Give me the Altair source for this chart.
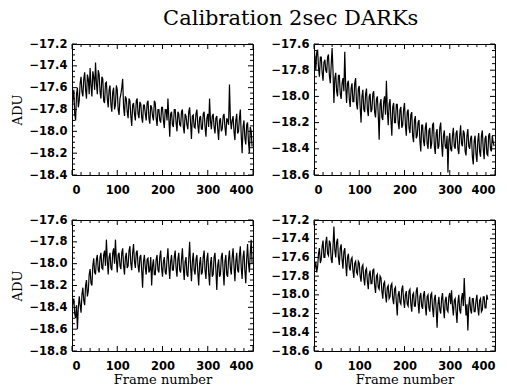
import altair as alt
import pandas as pd

TITLE = "Calibration 2sec DARKs"
X_TITLE = "Frame number"
Y_TITLE = "ADU"
FRAME_STEP = 2  # values below are read every 2 frames

p1 = [-17.78, -17.7, -17.62, -17.84, -17.9, -17.66, -17.6, -17.78, -17.72, -17.56, -17.5, -17.64, -17.68, -17.52, -17.46, -17.62, -17.7, -17.48, -17.52, -17.66,
      -17.42, -17.58, -17.68, -17.45, -17.5, -17.62, -17.37, -17.56, -17.66, -17.44, -17.48, -17.64, -17.7, -17.5, -17.52, -17.72, -17.74, -17.56, -17.55, -17.7,
      -17.78, -17.62, -17.58, -17.76, -17.82, -17.64, -17.6, -17.8, -17.76, -17.58, -17.62, -17.8, -17.85, -17.7, -17.66, -17.6, -17.52, -17.78, -17.86, -17.68,
      -17.7, -17.82, -17.88, -17.7, -17.72, -17.86, -17.95, -17.76, -17.74, -17.84, -17.9, -17.72, -17.7, -17.84, -17.88, -17.73, -17.75, -17.87, -17.92, -17.76,
      -17.76, -17.84, -17.9, -17.74, -17.72, -17.88, -17.93, -17.76, -17.78, -17.86, -17.9, -17.72, -17.74, -17.88, -17.95, -17.8, -17.8, -17.9, -17.92, -17.78,
      -17.78, -17.9, -17.97, -17.8, -17.8, -17.9, -17.7, -17.88, -18.05, -17.84, -17.82, -17.94, -17.96, -17.8, -17.8, -17.92, -18.0, -17.82, -17.84, -17.94,
      -17.95, -17.82, -17.8, -17.96, -18.02, -17.84, -17.86, -17.94, -17.98, -17.82, -17.78, -17.92, -18.07, -17.86, -17.85, -17.96, -17.97, -17.84, -17.8, -17.94,
      -18.02, -17.88, -17.86, -17.98, -17.98, -17.84, -17.82, -17.96, -18.05, -17.88, -17.84, -17.96, -17.7, -17.9, -17.98, -17.86, -17.84, -17.96, -18.02, -17.88,
      -17.86, -17.98, -18.08, -17.9, -17.88, -18.0, -17.98, -17.86, -17.84, -17.96, -18.04, -17.88, -17.9, -17.94, -17.57, -17.88, -17.98, -17.9, -17.86, -18.0,
      -18.08, -17.9, -17.84, -18.02, -18.0, -17.88, -17.8, -18.04, -18.2, -17.96, -17.9, -18.06, -18.12, -17.94, -17.92, -18.1, -18.2, -17.96, -18.0, -18.14]

p2 = [-17.62, -17.7, -17.8, -17.66, -17.65, -17.78, -17.85, -17.7, -17.7, -17.82, -17.88, -17.74, -17.72, -17.8, -17.82, -17.7, -17.68, -17.84, -17.9, -17.76,
      -17.63, -17.8, -18.05, -17.86, -17.82, -17.96, -18.0, -17.84, -17.84, -17.98, -18.02, -17.9, -17.86, -17.96, -17.66, -17.92, -18.05, -17.9, -17.88, -18.02,
      -18.08, -17.94, -17.9, -18.04, -18.04, -17.9, -17.86, -18.06, -18.1, -17.94, -17.92, -18.08, -18.2, -18.0, -17.95, -18.1, -18.12, -17.98, -17.94, -18.1,
      -18.15, -18.0, -17.98, -18.12, -18.1, -17.98, -17.96, -18.12, -18.16, -18.02, -18.0, -18.14, -18.33, -18.06, -18.02, -18.16, -18.18, -18.04, -18.0, -18.14,
      -17.88, -18.1, -18.22, -18.06, -18.02, -18.18, -18.3, -18.08, -18.05, -18.2, -18.2, -18.06, -18.06, -18.2, -18.25, -18.1, -18.08, -18.24, -18.22, -18.1,
      -18.05, -18.22, -18.3, -18.12, -18.1, -18.24, -18.28, -18.14, -18.12, -18.3, -18.35, -18.18, -18.15, -18.32, -18.3, -18.2, -18.18, -18.34, -18.42, -18.22,
      -18.22, -18.34, -18.38, -18.24, -18.2, -18.36, -18.4, -18.26, -18.24, -18.4, -18.36, -18.22, -18.2, -18.38, -18.44, -18.28, -18.25, -18.4, -18.38, -18.24,
      -18.2, -18.36, -18.46, -18.3, -18.26, -18.38, -18.4, -18.3, -18.58, -18.34, -18.28, -18.4, -18.42, -18.3, -18.24, -18.38, -18.4, -18.28, -18.26, -18.4,
      -18.44, -18.3, -18.22, -18.36, -18.38, -18.26, -18.28, -18.42, -18.45, -18.3, -18.25, -18.38, -18.4, -18.32, -18.3, -18.46, -18.52, -18.34, -18.3, -18.44,
      -18.5, -18.34, -18.28, -18.42, -18.46, -18.3, -18.26, -18.4, -18.48, -18.32, -18.3, -18.44, -18.45, -18.3, -18.28, -18.4, -18.42, -18.3, -18.35, -18.38]

p3 = [-18.42, -18.36, -18.32, -18.46, -18.5, -18.38, -18.6, -18.4, -18.3, -18.38, -18.45, -18.28, -18.22, -18.34, -18.38, -18.2, -18.15, -18.3, -18.25, -18.1,
      -18.05, -18.18, -18.2, -18.02, -17.95, -18.08, -18.1, -17.96, -17.92, -18.06, -18.08, -17.94, -17.9, -18.04, -18.05, -17.92, -17.88, -18.02, -17.78, -17.96,
      -18.1, -17.94, -17.9, -18.04, -18.06, -17.9, -17.86, -18.0, -17.78, -17.96, -18.08, -17.92, -17.9, -18.02, -18.05, -17.9, -17.86, -18.02, -18.1, -17.94,
      -17.9, -18.04, -18.02, -17.88, -17.84, -18.0, -18.06, -17.9, -17.82, -17.98, -18.04, -17.9, -17.88, -18.02, -18.08, -17.94, -17.92, -18.06, -18.22, -17.98,
      -17.92, -18.04, -18.1, -17.96, -17.95, -18.08, -18.06, -17.94, -18.2, -18.02, -17.96, -18.1, -18.1, -17.96, -17.92, -18.06, -18.08, -17.94, -17.88, -18.04,
      -18.12, -17.98, -17.94, -18.08, -18.1, -17.96, -17.86, -18.02, -18.14, -17.98, -17.92, -18.06, -18.06, -17.94, -17.88, -18.04, -18.12, -17.96, -17.9, -18.06,
      -18.08, -17.96, -17.86, -18.04, -18.15, -17.98, -17.94, -18.1, -18.12, -17.96, -17.8, -18.02, -18.16, -17.98, -17.9, -18.06, -18.1, -17.96, -17.92, -18.08,
      -18.2, -18.0, -17.94, -18.1, -18.08, -17.94, -17.88, -18.06, -18.14, -17.96, -17.9, -18.08, -18.2, -18.0, -17.94, -18.12, -18.1, -17.94, -17.9, -18.06,
      -18.24, -18.02, -17.96, -18.12, -18.1, -17.94, -17.9, -18.06, -18.2, -17.98, -17.92, -18.1, -18.12, -17.96, -17.88, -18.04, -18.1, -17.94, -17.86, -18.02,
      -18.16, -17.98, -17.9, -18.06, -18.08, -17.92, -17.84, -18.04, -18.14, -17.94, -17.88, -18.06, -18.18, -17.96, -17.82, -18.0, -18.08, -17.9, -17.78, -18.0]

p4 = [-17.78, -17.7, -17.65, -17.76, -17.7, -17.56, -17.5, -17.66, -17.62, -17.48, -17.42, -17.6, -17.6, -17.44, -17.38, -17.56, -17.58, -17.42, -17.45, -17.62,
      -17.66, -17.48, -17.27, -17.52, -17.6, -17.44, -17.4, -17.6, -17.68, -17.5, -17.46, -17.62, -17.72, -17.54, -17.5, -17.66, -17.8, -17.6, -17.56, -17.7,
      -17.74, -17.62, -17.6, -17.74, -17.82, -17.66, -17.64, -17.76, -17.78, -17.64, -17.66, -17.8, -17.86, -17.7, -17.68, -17.82, -17.9, -17.74, -17.72, -17.86,
      -17.94, -17.78, -17.74, -17.88, -17.88, -17.74, -17.72, -17.9, -17.98, -17.8, -17.78, -17.92, -17.94, -17.8, -17.82, -17.96, -18.04, -17.88, -17.86, -18.0,
      -18.08, -17.92, -17.9, -18.04, -18.02, -17.9, -17.88, -18.04, -18.1, -17.94, -17.92, -18.08, -18.22, -18.0, -17.96, -18.08, -18.1, -17.94, -17.9, -18.06,
      -18.14, -18.0, -17.96, -18.1, -18.12, -17.96, -17.94, -18.1, -18.18, -18.0, -17.98, -18.12, -18.12, -17.96, -17.92, -18.08, -18.2, -18.02, -17.98, -18.12,
      -18.15, -18.0, -17.96, -18.12, -18.22, -18.02, -18.0, -18.14, -18.18, -18.0, -17.98, -18.14, -18.24, -18.04, -18.0, -18.16, -18.35, -18.1, -18.02, -18.16,
      -18.2, -18.04, -17.98, -18.14, -18.25, -18.06, -18.02, -18.16, -18.18, -18.02, -17.98, -18.1, -17.95, -18.12, -18.22, -18.06, -18.04, -18.18, -18.3, -18.08,
      -18.0, -18.16, -18.2, -18.04, -17.98, -18.12, -17.82, -18.06, -18.22, -18.1, -18.38, -18.12, -18.02, -18.16, -18.2, -18.04, -18.04, -18.18, -18.18, -18.06,
      -18.0, -18.14, -18.22, -18.06, -18.04, -18.18, -18.16, -18.02, -18.02, -18.14, -18.14, -18.0, -18.05]

x_domain = [0, 400]
x_ticks = [0, 100, 200, 300, 400]
x_minor = [20, 40, 60, 80, 120, 140, 160, 180, 220, 240, 260, 280, 320, 340, 360, 380]

y_domains = [[-18.4, -17.2], [-18.6, -17.6], [-18.8, -17.6], [-18.6, -17.2]]
y_ticks = [
    [-18.4, -18.2, -18.0, -17.8, -17.6, -17.4, -17.2],
    [-18.6, -18.4, -18.2, -18.0, -17.8, -17.6],
    [-18.8, -18.6, -18.4, -18.2, -18.0, -17.8, -17.6],
    [-18.6, -18.4, -18.2, -18.0, -17.8, -17.6, -17.4, -17.2],
]

W, H = 181, 131
MAJ, MIN = 5, 3
TICK_FONT = "DejaVu Sans"
TEXT_FONT = "DejaVu Serif"


def minor_values(ticks):
    out = []
    for a, b in zip(ticks[:-1], ticks[1:]):
        for k in (1, 2, 3):
            out.append(round(a + (b - a) * k / 4, 3))
    return out


def panel(vals, ydom, yt, ytitle, xtitle):
    df = pd.DataFrame({"frame": [i * FRAME_STEP for i in range(len(vals))], "adu": vals})
    xs = alt.Scale(domain=x_domain, nice=False, zero=False)
    ys = alt.Scale(domain=ydom, nice=False, zero=False)
    xax = alt.Axis(values=x_ticks, format="d", ticks=False, domain=False,
                   grid=False, labelPadding=9, titlePadding=2)
    yax = alt.Axis(values=yt, format=".1f", ticks=False, domain=False,
                   grid=False, labelPadding=5, titlePadding=4)
    line = alt.Chart(df).mark_line(color="black", strokeWidth=1.2, clip=True).encode(
        x=alt.X("frame:Q", scale=xs, title=xtitle, axis=xax),
        y=alt.Y("adu:Q", scale=ys, title=ytitle, axis=yax),
    )
    layers = [line]
    ymaj = pd.DataFrame({"v": yt})
    ymin = pd.DataFrame({"v": minor_values(yt)})
    xmaj = pd.DataFrame({"v": x_ticks})
    xmin = pd.DataFrame({"v": x_minor})
    for d, ln in ((ymaj, MAJ), (ymin, MIN)):
        for a, b in ((0, ln), (W - ln, W)):
            layers.append(alt.Chart(d).mark_rule(color="black", strokeWidth=1).encode(
                y=alt.Y("v:Q", scale=ys, title=ytitle, axis=yax),
                x=alt.value(a), x2=alt.value(b)))
    for d, ln in ((xmaj, MAJ), (xmin, MIN)):
        for a, b in ((0, ln), (H - ln, H)):
            layers.append(alt.Chart(d).mark_rule(color="black", strokeWidth=1).encode(
                x=alt.X("v:Q", scale=xs, title=xtitle, axis=xax),
                y=alt.value(a), y2=alt.value(b)))
    return alt.layer(*layers).properties(width=W, height=H)


c1 = panel(p1, y_domains[0], y_ticks[0], Y_TITLE, None)
c2 = panel(p2, y_domains[1], y_ticks[1], None, None)
c3 = panel(p3, y_domains[2], y_ticks[2], Y_TITLE, X_TITLE)
c4 = panel(p4, y_domains[3], y_ticks[3], None, X_TITLE)

chart = alt.concat(c1, c2, c3, c4, columns=2, spacing={"row": 45, "column": 61},
                   bounds="flush").properties(
    title=alt.TitleParams(TITLE, anchor="middle", font=TEXT_FONT, fontSize=21,
                          fontWeight="normal", color="black", offset=9, dx=37),
    padding={"left": 11, "top": 7, "right": 0, "bottom": 0},
    background="white",
).configure_view(stroke="black", strokeWidth=1).configure_axis(
    labelFont=TICK_FONT, labelFontSize=11.5, labelFontWeight="bold", labelColor="black",
    titleFont=TEXT_FONT, titleFontSize=13, titleFontWeight="normal", titleColor="black",
)

chart.save("out.html", embed_options={"renderer": "svg", "actions": False})
